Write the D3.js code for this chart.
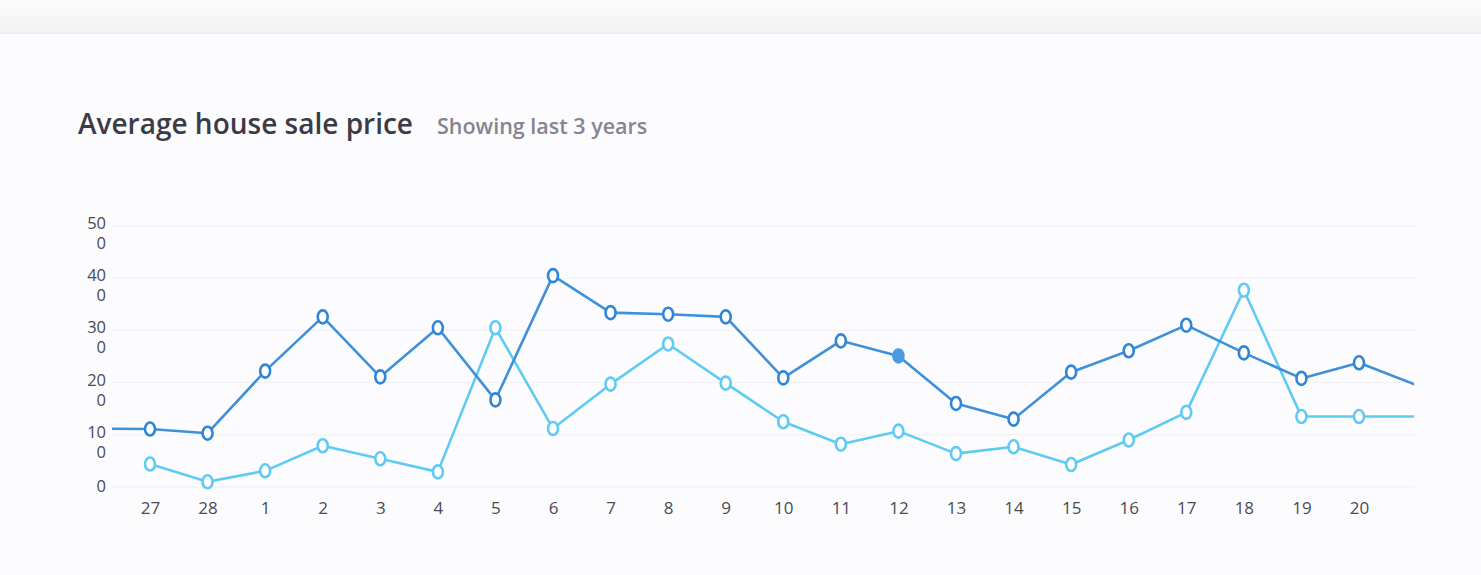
<!DOCTYPE html>
<html><head><meta charset="utf-8">
<script src="https://cdn.jsdelivr.net/npm/d3@7"></script>
<style>
html,body{margin:0;padding:0;background:#fcfcfd;}
svg{display:block;}
</style></head>
<body>
<svg id="chart" width="1481" height="575"></svg>
<script>
const categories = ["27","28","1","2","3","4","5","6","7","8","9","10","11","12","13","14","15","16","17","18","19","20"];
const darkValues = [111,103,222,326,211,305,167,405,334,331,326,209,280,251,160,130,220,261,310,257,208,238];
const lightValues = [44,10,31,79,54,29,305,112,197,274,199,125,82,107,64,77,43,90,143,377,135,135];
const darkBefore = 112, darkAfter = 195, lightAfter = 135;
const yTicks = [0,100,200,300,400,500];
const highlightIndex = 13;
const titleText = "Average house sale price";
const subtitleText = "Showing last 3 years";

const FONT = "'Open Sans', 'Noto Sans', sans-serif";
const svg = d3.select("#chart");
const defs = svg.append("defs");
const grad = defs.append("linearGradient").attr("id","topband").attr("x1",0).attr("x2",0).attr("y1",0).attr("y2",1);
grad.append("stop").attr("offset","0%").attr("stop-color","#fbfbfc");
grad.append("stop").attr("offset","100%").attr("stop-color","#f2f2f4");
svg.append("rect").attr("x",0).attr("y",0).attr("width",1481).attr("height",33).attr("fill","url(#topband)");
svg.append("rect").attr("x",0).attr("y",33).attr("width",1481).attr("height",542).attr("fill","#fcfcfe");
svg.append("line").attr("x1",0).attr("x2",1481).attr("y1",33.5).attr("y2",33.5).attr("stroke","#ececf0");

const x = d3.scaleLinear().domain([0, categories.length-1]).range([150, 1359]);
const y = d3.scaleLinear().domain([0, 500]).range([487, 226]);

defs.append("clipPath").attr("id","plotclip").append("rect")
  .attr("x",112).attr("y",150).attr("width",1414-112).attr("height",360);

// gridlines
svg.append("g").selectAll("line").data(yTicks).join("line")
  .attr("x1",112).attr("x2",1415)
  .attr("y1",d=>y(d)).attr("y2",d=>y(d))
  .attr("stroke","#efeff5").attr("stroke-width",1);

// y axis
const yAxis = d3.axisLeft(y).tickValues(yTicks).tickSize(0).tickPadding(0);
const yg = svg.append("g").attr("transform","translate(106,0)").call(yAxis);
yg.select(".domain").remove();
yg.selectAll("text").each(function(d){
  const s = String(d);
  const t = d3.select(this).text(null)
    .attr("font-family",FONT).attr("font-size",16.5)
    .attr("fill","#4a4a55").attr("text-anchor","end").attr("dy",null).attr("x",0);
  if (s.length > 2) {
    t.append("tspan").attr("x",0).attr("dy","0.15em").text(s.slice(0,2));
    t.append("tspan").attr("x",0).attr("dy","20px").text(s.slice(2));
  } else {
    t.append("tspan").attr("x",0).attr("dy","0.3em").text(s);
  }
});

// x axis
const xAxis = d3.axisBottom(x).tickValues(d3.range(categories.length)).tickFormat(i=>categories[i]).tickSize(0).tickPadding(0);
const xg = svg.append("g").attr("transform","translate(0,502)").call(xAxis);
xg.select(".domain").remove();
xg.selectAll("text").attr("font-family",FONT).attr("font-size",17).attr("fill","#4a4a55").attr("dy","0.68em");

// lines
const darkPts = [[-1,darkBefore]].concat(darkValues.map((v,i)=>[i,v])).concat([[categories.length,darkAfter]]);
const lightPts = lightValues.map((v,i)=>[i,v]).concat([[categories.length,lightAfter]]);
const line = d3.line().x(d=>x(d[0])).y(d=>y(d[1]));
const plot = svg.append("g").attr("clip-path","url(#plotclip)");
const darkColor = "#3f90da", lightColor = "#5fcbf5";
plot.append("path").datum(lightPts).attr("d",line).attr("fill","none").attr("stroke",lightColor).attr("stroke-width",2.6).attr("stroke-linejoin","round");
plot.append("path").datum(darkPts).attr("d",line).attr("fill","none").attr("stroke",darkColor).attr("stroke-width",2.6).attr("stroke-linejoin","round");

// markers
svg.append("g").selectAll("ellipse").data(lightValues).join("ellipse")
  .attr("cx",(d,i)=>x(i)).attr("cy",d=>y(d)).attr("rx",5).attr("ry",6.5)
  .attr("fill","#ffffff").attr("stroke",lightColor).attr("stroke-width",2.6);
svg.append("g").selectAll("ellipse").data(darkValues).join("ellipse")
  .attr("cx",(d,i)=>x(i)).attr("cy",d=>y(d)).attr("rx",5).attr("ry",6.5)
  .attr("fill",(d,i)=> i===highlightIndex ? "#4a9be2" : "#ffffff")
  .attr("stroke",(d,i)=> i===highlightIndex ? "#4a9be2" : "#2f86d6").attr("stroke-width",2.6);

// title
svg.append("text").attr("x",78).attr("y",134).text(titleText)
  .attr("font-family",FONT).attr("font-size",28).attr("font-weight",600).attr("fill","#3b3b46");
svg.append("text").attr("x",437).attr("y",134).text(subtitleText)
  .attr("font-family",FONT).attr("font-size",21.5).attr("font-weight",600).attr("fill","#85858f");
</script>
</body></html>
